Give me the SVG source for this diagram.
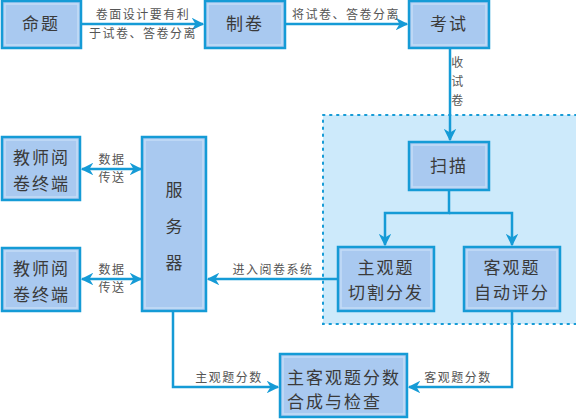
<svg xmlns="http://www.w3.org/2000/svg" width="576" height="419" viewBox="0 0 576 419">
<defs>
<style>
.box{fill:#a9c9f0;stroke:#159bd6;stroke-width:2.5}
.inner{fill:none;stroke:#c4dcf6;stroke-width:1.5}
.t{font-family:"Noto Sans CJK SC","Liberation Sans",sans-serif;fill:#3a3a3a;font-size:17px}
.s{font-family:"Noto Sans CJK SC","Liberation Sans",sans-serif;fill:#555;font-size:12px;letter-spacing:1.5px}
.ln{fill:none;stroke:#159bd6;stroke-width:2.5}
</style>
<marker id="ah" viewBox="0 0 10 10" refX="9" refY="5" markerWidth="5" markerHeight="5" orient="auto-start-reverse" markerUnits="strokeWidth">
<path d="M0,0 L10,5 L0,10 L3,5 Z" fill="#159bd6"/>
</marker>
</defs>
<rect width="576" height="419" fill="#fff"/>
<g id="region">
<rect x="323" y="115" width="260" height="209" fill="#cdeafb" stroke="#159bd6" stroke-width="2" stroke-dasharray="1.5 5.5" stroke-linecap="round"/>
</g>
<g id="connectors">
<line class="ln" x1="81" y1="24" x2="203" y2="24" marker-end="url(#ah)"/>
<line class="ln" x1="285" y1="24" x2="407" y2="24" marker-end="url(#ah)"/>
<line class="ln" x1="450" y1="49" x2="450" y2="140" marker-end="url(#ah)"/>
<polyline class="ln" points="449,190 449,213 385,213 385,245" marker-end="url(#ah)"/>
<polyline class="ln" points="449,213 512,213 512,245" marker-end="url(#ah)"/>
<line class="ln" x1="338" y1="279" x2="208" y2="279" marker-end="url(#ah)"/>
<line class="ln" x1="82" y1="169" x2="141" y2="169" marker-start="url(#ah)" marker-end="url(#ah)"/>
<line class="ln" x1="82" y1="279" x2="141" y2="279" marker-start="url(#ah)" marker-end="url(#ah)"/>
<polyline class="ln" points="173,311 173,387 278,387" marker-end="url(#ah)"/>
<polyline class="ln" points="512,311 512,387 409,387" marker-end="url(#ah)"/>
<text class="s" x="143" y="19" text-anchor="middle">卷面设计要有利</text>
<text class="s" x="143" y="38" text-anchor="middle">于试卷、答卷分离</text>
<text class="s" x="346" y="19" text-anchor="middle">将试卷、答卷分离</text>
<text class="s" x="458" y="67" text-anchor="middle">收</text>
<text class="s" x="458" y="86" text-anchor="middle">试</text>
<text class="s" x="458" y="105" text-anchor="middle">卷</text>
<text class="s" x="273" y="274" text-anchor="middle">进入阅卷系统</text>
<text class="s" x="112" y="164" text-anchor="middle">数据</text>
<text class="s" x="112" y="182" text-anchor="middle">传送</text>
<text class="s" x="112" y="274" text-anchor="middle">数据</text>
<text class="s" x="112" y="292" text-anchor="middle">传送</text>
<text class="s" x="229" y="382" text-anchor="middle">主观题分数</text>
<text class="s" x="458" y="382" text-anchor="middle">客观题分数</text>
</g>
<g id="n1">
<rect class="box" x="2" y="1" width="79" height="47"/><rect class="inner" x="5" y="4" width="73" height="41"/>
<text class="t" x="41" y="30" text-anchor="middle" letter-spacing="2">命题</text>
</g>
<g id="n2">
<rect class="box" x="205" y="1" width="80" height="47"/><rect class="inner" x="208" y="4" width="74" height="41"/>
<text class="t" x="245" y="30" text-anchor="middle" letter-spacing="2">制卷</text>
</g>
<g id="n3">
<rect class="box" x="409" y="1" width="80" height="47"/><rect class="inner" x="412" y="4" width="74" height="41"/>
<text class="t" x="449" y="30" text-anchor="middle" letter-spacing="2">考试</text>
</g>
<g id="n4">
<rect class="box" x="409" y="142" width="80" height="48"/><rect class="inner" x="412" y="145" width="74" height="42"/>
<text class="t" x="449" y="172" text-anchor="middle" letter-spacing="2">扫描</text>
</g>
<g id="n5">
<rect class="box" x="338" y="247" width="96" height="64"/><rect class="inner" x="341" y="250" width="90" height="58"/>
<text class="t" x="386" y="274" text-anchor="middle" letter-spacing="2">主观题</text>
<text class="t" x="386" y="299" text-anchor="middle" letter-spacing="2">切割分发</text>
</g>
<g id="n6">
<rect class="box" x="464" y="247" width="96" height="64"/><rect class="inner" x="467" y="250" width="90" height="58"/>
<text class="t" x="512" y="274" text-anchor="middle" letter-spacing="2">客观题</text>
<text class="t" x="512" y="299" text-anchor="middle" letter-spacing="2">自动评分</text>
</g>
<g id="n7">
<rect class="box" x="142" y="137" width="64" height="174"/><rect class="inner" x="145" y="140" width="58" height="168"/>
<text class="t" x="174" y="196" text-anchor="middle">服</text>
<text class="t" x="174" y="233" text-anchor="middle">务</text>
<text class="t" x="174" y="269" text-anchor="middle">器</text>
</g>
<g id="n8">
<rect class="box" x="2" y="137" width="78" height="63"/><rect class="inner" x="5" y="140" width="72" height="57"/>
<text class="t" x="13" y="164" letter-spacing="2">教师阅</text>
<text class="t" x="13" y="190" letter-spacing="2">卷终端</text>
</g>
<g id="n9">
<rect class="box" x="2" y="248" width="78" height="63"/><rect class="inner" x="5" y="251" width="72" height="57"/>
<text class="t" x="13" y="275" letter-spacing="2">教师阅</text>
<text class="t" x="13" y="301" letter-spacing="2">卷终端</text>
</g>
<g id="n10">
<rect class="box" x="280" y="354" width="127" height="63"/><rect class="inner" x="283" y="357" width="121" height="57"/>
<text class="t" x="287" y="384" letter-spacing="2">主客观题分数</text>
<text class="t" x="287" y="408" letter-spacing="2">合成与检查</text>
</g>
</svg>
